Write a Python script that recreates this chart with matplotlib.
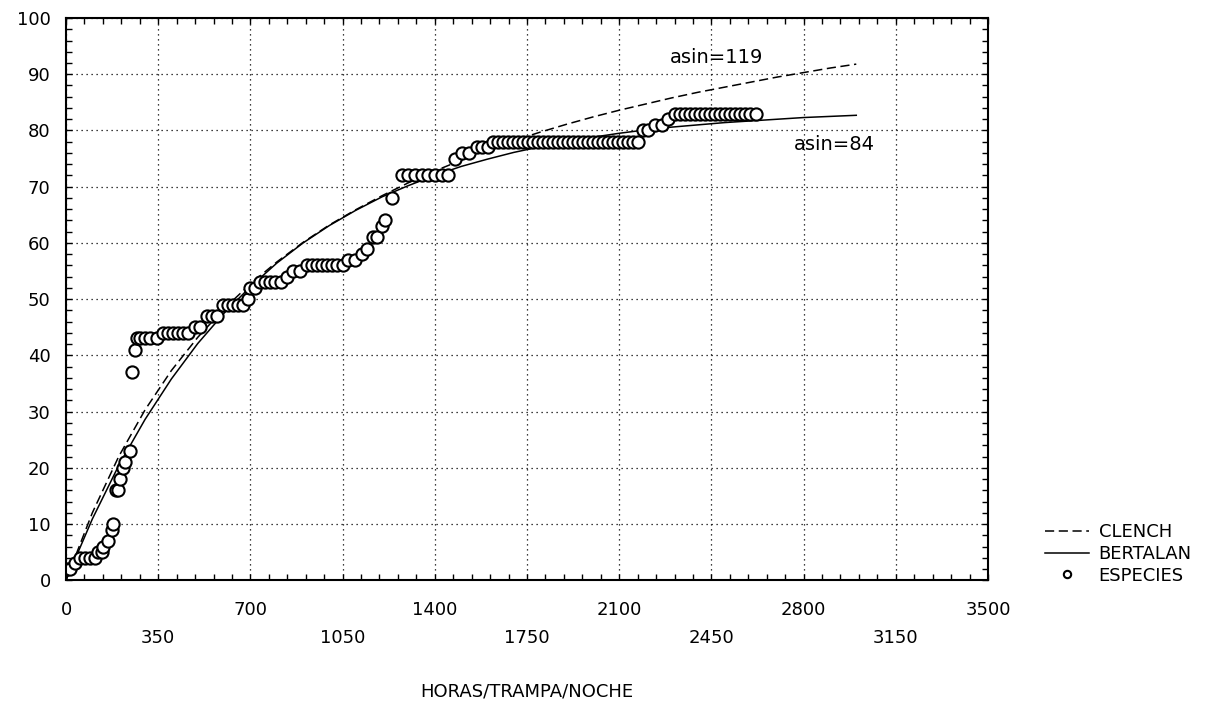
import numpy as np
import matplotlib
matplotlib.use("Agg")
import matplotlib.pyplot as plt
from matplotlib.ticker import MultipleLocator

# accumulated species observed vs. trap-hours
horas = [5, 15, 34, 53, 72, 91, 110, 122, 135, 142, 161, 173, 180, 188, 196,
         205, 215, 224, 243, 249, 262, 268, 281, 300, 319, 344, 370, 388, 407,
         426, 445, 464, 490, 509, 534, 553, 572, 597, 616, 635, 654, 673, 692,
         698, 717, 736, 755, 774, 793, 815, 838, 862, 888, 914, 933, 952, 971,
         990, 1009, 1028, 1053, 1072, 1097, 1123, 1142, 1165, 1180, 1200, 1212,
         1236, 1274, 1299, 1324, 1350, 1375, 1400, 1426, 1451, 1477, 1502, 1528,
         1559, 1578, 1603, 1622, 1641, 1660, 1679, 1698, 1717, 1736, 1755, 1774,
         1793, 1812, 1831, 1850, 1869, 1888, 1907, 1926, 1945, 1964, 1983, 2002,
         2021, 2040, 2059, 2078, 2097, 2116, 2135, 2154, 2173, 2192, 2211, 2236,
         2262, 2287, 2312, 2331, 2350, 2369, 2388, 2407, 2426, 2445, 2464, 2483,
         2502, 2521, 2540, 2559, 2578, 2597, 2618]
especies = [2, 2, 3, 4, 4, 4, 4, 5, 5, 6, 7, 9, 10, 16, 16,
            18, 20, 21, 23, 37, 41, 43, 43, 43, 43, 43, 44, 44, 44,
            44, 44, 44, 45, 45, 47, 47, 47, 49, 49, 49, 49, 49, 50,
            52, 52, 53, 53, 53, 53, 53, 54, 55, 55, 56, 56, 56, 56,
            56, 56, 56, 56, 57, 57, 58, 59, 61, 61, 63, 64,
            68, 72, 72, 72, 72, 72, 72, 72, 72, 75, 76, 76,
            77, 77, 77, 78, 78, 78, 78, 78, 78, 78, 78, 78,
            78, 78, 78, 78, 78, 78, 78, 78, 78, 78, 78, 78,
            78, 78, 78, 78, 78, 78, 78, 78, 78, 80, 80, 81,
            81, 82, 83, 83, 83, 83, 83, 83, 83, 83, 83, 83,
            83, 83, 83, 83, 83, 83, 83]

# fitted curves
curva_x = [0, 100, 200, 300, 400, 500, 600, 700, 800, 900, 1000, 1100, 1200,
           1300, 1400, 1500, 1600, 1700, 1800, 1900, 2000, 2100, 2200, 2300,
           2400, 2500, 2600, 2700, 2800, 2900, 3000]
clench = [0, 12.0, 22.0, 30.3, 37.3, 43.2, 48.3, 52.7, 56.6, 60.1, 63.2, 65.9,
          68.4, 70.7, 72.8, 74.7, 76.5, 78.2, 79.7, 81.1, 82.4, 83.6, 84.7,
          85.8, 86.8, 87.7, 88.6, 89.5, 90.3, 91.1, 91.8]
bertalan = [0, 10.9, 20.4, 28.6, 35.8, 42.1, 47.5, 52.2, 56.4, 60.0, 63.1, 65.8,
            68.2, 70.2, 72.0, 73.6, 74.9, 76.1, 77.1, 78.0, 78.8, 79.5, 80.1,
            80.6, 81.0, 81.4, 81.7, 82.0, 82.3, 82.5, 82.7]

x_labels_top = [0, 700, 1400, 2100, 2800, 3500]
x_labels_bottom = [350, 1050, 1750, 2450, 3150]
y_labels = [0, 10, 20, 30, 40, 50, 60, 70, 80, 90, 100]

plt.rcParams["font.family"] = ["DejaVu Sans"]

fig = plt.figure(figsize=(12.27, 7.07), dpi=100)
ax = fig.add_axes([0.0538, 0.1793, 0.7514, 0.7952])

ax.plot(curva_x, clench, color="black", lw=1.1, ls=(0, (6, 3)), label="CLENCH")
ax.plot(curva_x, bertalan, color="black", lw=1.1, ls="-", label="BERTALAN")
ax.plot(horas, especies, ls="none", marker="o", ms=8.8, mfc="white",
        mec="black", mew=1.5, label="ESPECIES")

ax.set_xlim(0, 3500)
ax.set_ylim(0, 100)

ax.xaxis.set_major_locator(MultipleLocator(350))
ax.xaxis.set_minor_locator(MultipleLocator(70))
ax.set_yticks(y_labels)
ax.yaxis.set_minor_locator(MultipleLocator(2))
ax.tick_params(which="both", direction="in", top=True, right=True,
               length=4, width=1)
ax.tick_params(axis="y", labelsize=13, pad=11)
ax.set_xticklabels([])

ax.grid(True, which="major", color="black", ls=(0, (1, 3)), lw=0.9)
for s in ax.spines.values():
    s.set_linewidth(1.5)

# two rows of x tick labels
for v in x_labels_top:
    ax.annotate(str(v), xy=(v, 0), xycoords=("data", "axes fraction"),
                xytext=(0, -21.6), textcoords="offset points",
                ha="center", va="center", fontsize=13)
for v in x_labels_bottom:
    ax.annotate(str(v), xy=(v, 0), xycoords=("data", "axes fraction"),
                xytext=(0, -41.8), textcoords="offset points",
                ha="center", va="center", fontsize=13)

ax.set_xlabel("HORAS/TRAMPA/NOCHE", fontsize=13, labelpad=70)

ax.text(2470, 93, "asin=119", ha="center", va="center", fontsize=14)
ax.text(2916, 77.5, "asin=84", ha="center", va="center", fontsize=14)

fig.legend(loc="center left", bbox_to_anchor=(0.852, 0.2164), frameon=False,
           fontsize=13, handlelength=2.4, handletextpad=0.55, labelspacing=0.2,
           borderpad=0, borderaxespad=0, numpoints=1, markerscale=0.6)

fig.savefig("out.png", dpi=100)
